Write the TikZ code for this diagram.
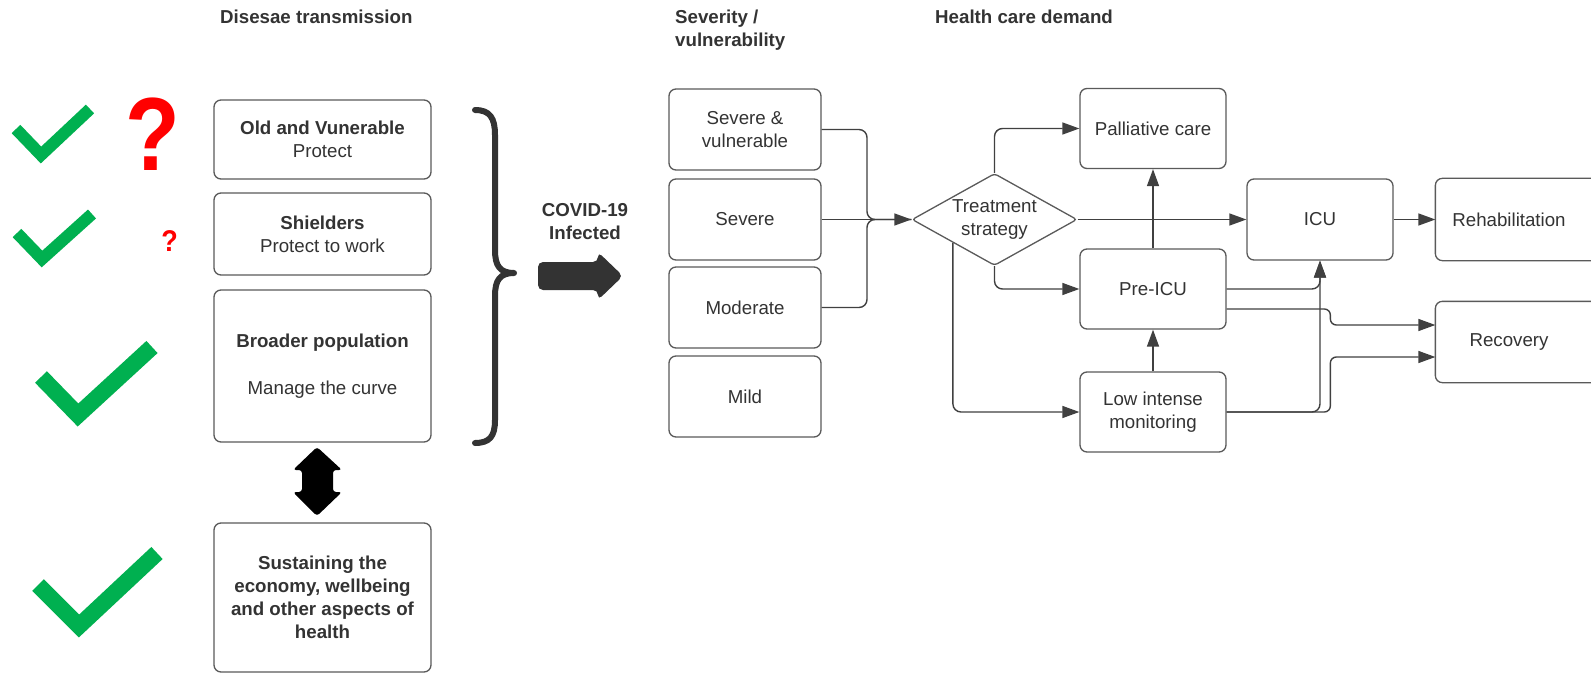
\documentclass[tikz,border=0pt]{standalone}
\usepackage{fontspec}
\setmainfont{Liberation Sans}
\usetikzlibrary{shapes.geometric,arrows.meta,calc}
\definecolor{txt}{HTML}{333333}
\definecolor{boxc}{HTML}{5A5A5A}
\definecolor{linec}{HTML}{404040}
\definecolor{chk}{HTML}{00B050}
\definecolor{qred}{HTML}{FF0000}
\definecolor{darkfill}{HTML}{333333}
\newcommand\mybody{\fontsize{18.7}{23}\selectfont}
\tikzset{
  box/.style={draw=boxc, line width=1.3pt, rounded corners=7pt, fill=white,
    minimum width=146pt, minimum height=80pt, align=center, inner sep=2pt,
    font=\mybody, text=txt},
  boxline/.style={draw=boxc, line width=1.3pt, rounded corners=7pt},
  conn/.style={draw=linec, line width=1.4pt, rounded corners=8pt},
  arr/.style={-{Triangle[length=17pt,width=12pt]}},
  heading/.style={font=\mybody\bfseries, text=txt, align=left, anchor=north west, inner sep=0pt},
  check/.style={draw=chk, line cap=butt, line join=miter},
  qmark/.style={text=qred, inner sep=0pt},
  bracestyle/.style={draw=darkfill, line width=6pt, line cap=round, line join=round},
}
\begin{document}
\begin{tikzpicture}[x=1pt,y=-1pt]
\useasboundingbox[fill=white] (0,0) rectangle (1591,674);

% headings
\node[heading] (h1) at (220,10) {Disesae transmission};
\node[heading] (h2) at (675,10) {Severity /\\vulnerability};
\node[heading] (h3) at (935,10) {Health care demand};

% checks and question marks
\draw[check, line width=12pt] (16,129) -- (41,155) -- (90,109);
\draw[check, line width=12pt] (17,233) -- (42,259) -- (92,214);
\draw[check, line width=16.5pt] (41,377) -- (78,415) -- (152,347);
\draw[check, line width=16.5pt] (38,585) -- (79,626) -- (157,553);
\node[qmark, font=\bfseries\fontsize{104}{104}\selectfont, xscale=0.86] (q1) at (152.5,134) {?};
\node[qmark, font=\bfseries\fontsize{30}{30}\selectfont, xscale=0.9] (q2) at (169.5,241) {?};

% left boxes
\node[box, minimum width=217pt, minimum height=79pt] (old) at (322.5,139.5) {\textbf{Old and Vunerable}\\Protect};
\node[box, minimum width=217pt, minimum height=82pt] (shi) at (322.5,234) {\textbf{Shielders}\\Protect to work};
\node[box, minimum width=217pt, minimum height=152pt] (bro) at (322.5,366) {\textbf{Broader population}\\[24pt]Manage the curve};
\node[box, minimum width=217pt, minimum height=149pt] (sus) at (322.5,597.5) {\textbf{Sustaining the}\\\textbf{economy, wellbeing}\\\textbf{and other aspects of}\\\textbf{health}};

% double arrow
\fill[black, rounded corners=3pt] (317,447) -- (342,470) -- (333,470) -- (333,492) -- (342,492) -- (317,516) -- (293,492) -- (302,492) -- (302,470) -- (293,470) -- cycle;

% brace
\draw[bracestyle] (475,110) .. controls (490,110) and (495,118) .. (495,135) -- (495,250) .. controls (495,266) and (500,273) .. (514,273) .. controls (500,273) and (495,280) .. (495,296) -- (495,420) .. controls (495,436) and (490,443) .. (475,443);

% COVID arrow
\node[font=\mybody\bfseries, text=txt, align=center, inner sep=0pt] (cov) at (585,222) {COVID-19\\Infected};
\fill[darkfill, rounded corners=5pt] (538,262) -- (598,262) -- (598,252) -- (623,276) -- (598,300) -- (598,290) -- (538,290) -- cycle;

% severity boxes
\node[box, minimum width=152pt, minimum height=81pt] (sv) at (745,129.5) {Severe \&\\vulnerable};
\node[box, minimum width=152pt, minimum height=81pt] (sev) at (745,219.5) {Severe};
\node[box, minimum width=152pt, minimum height=81pt] (mod) at (745,307.5) {Moderate};
\node[box, minimum width=152pt, minimum height=81pt] (mild) at (745,396.5) {Mild};

% diamond
\node[draw=boxc, line width=1.3pt, diamond, aspect=1.79, minimum width=165pt, minimum height=92pt,
  inner sep=0pt, align=center, font=\mybody, text=txt, rounded corners=3pt] (ts) at (994.5,219.5) {Treatment\\strategy};

% care boxes
\node[box] (pal) at (1153,128.5) {Palliative care};
\node[box] (pre) at (1153,289) {Pre-ICU};
\node[box] (low) at (1153,412) {Low intense\\monitoring};
\node[box, minimum height=81pt] (icu) at (1320,219.5) {ICU};
\node[box, draw=none, fill=none, minimum height=81pt] (reh) at (1509,219.5) {Rehabilitation};
\node[box, draw=none, fill=none] (rec) at (1509,342) {Recovery};
\draw[boxline] ($(reh.north east)+(40,0)$) -- (reh.north west) -- (reh.south west) -- ($(reh.south east)+(40,0)$);
\draw[boxline] ($(rec.north east)+(40,0)$) -- (rec.north west) -- (rec.south west) -- ($(rec.south east)+(40,0)$);

% connectors
\coordinate (mergeL) at (867,219.5);
\draw[conn] (sv.east) -| (mergeL) -- (ts.west);
\draw[conn] (mod.east) -| (mergeL) -- (ts.west);
\draw[conn, arr] (sev.east) -- (ts.west);
\draw[conn, arr] (ts.north) |- (pal.west);
\draw[conn, arr] (ts.south) |- (pre.west);
\draw[conn, arr] (ts.south west) |- (low.west);
\draw[conn, arr] (ts.east) -- (icu.west);
\draw[conn, arr] (pre.north) -- (pal.south);
\draw[conn, arr] (low.north) -- (pre.south);
\draw[conn, arr] (icu.east) -- (reh.west);
\draw[conn, arr] (pre.east) -| (icu.south);
\draw[conn, arr] (low.east) -| (icu.south);
\draw[conn, arr, rounded corners=6pt] ($(pre.east)+(0,20)$) -| ($(rec.west)+(-105,-17)$) -- ($(rec.west)+(0,-17)$);
\draw[conn, arr, rounded corners=6pt] (low.east) -| ($(rec.west)+(-105,15)$) -- ($(rec.west)+(0,15)$);
\end{tikzpicture}
\end{document}
